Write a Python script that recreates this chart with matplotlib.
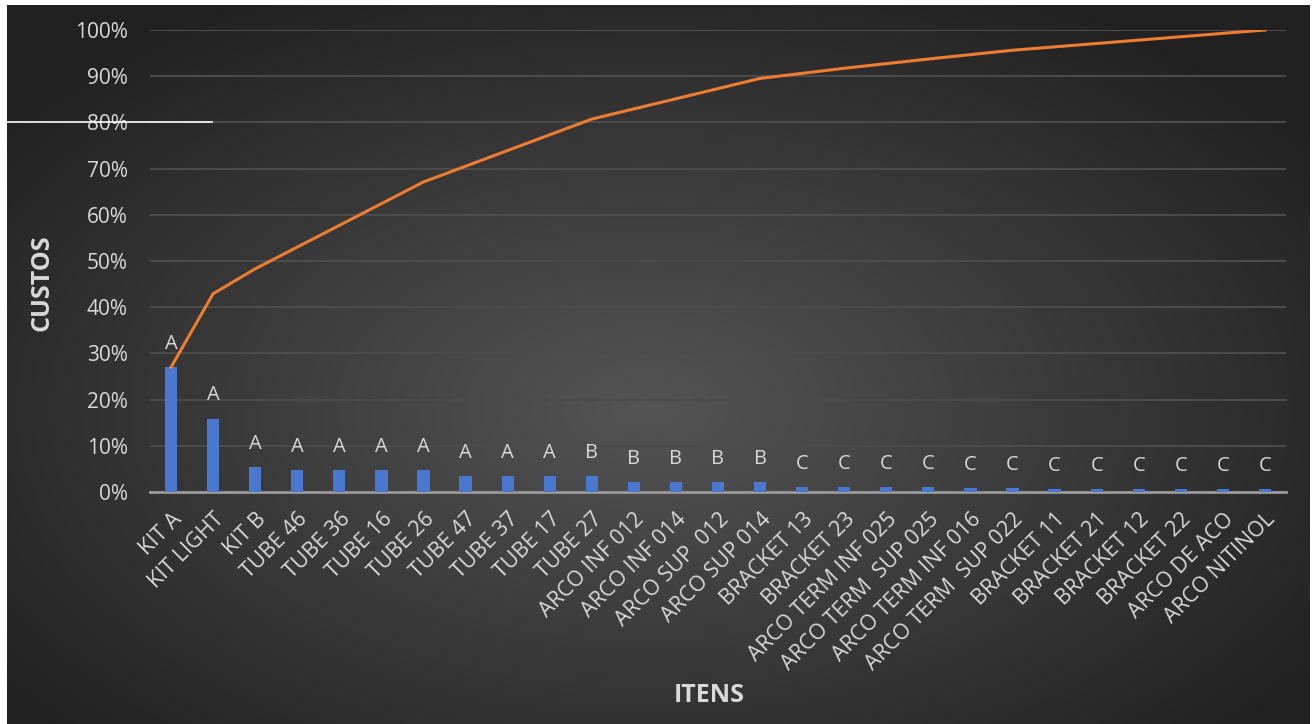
import matplotlib.pyplot as plt
import numpy as np

itens = ['KIT A', 'KIT LIGHT', 'KIT B', 'TUBE 46', 'TUBE 36', 'TUBE 16', 'TUBE 26',
         'TUBE 47', 'TUBE 37', 'TUBE 17', 'TUBE 27', 'ARCO INF 012', 'ARCO INF 014',
         'ARCO SUP  012', 'ARCO SUP 014', 'BRACKET 13', 'BRACKET 23', 'ARCO TERM INF 025',
         'ARCO TERM  SUP 025', 'ARCO TERM INF 016', 'ARCO TERM  SUP 022', 'BRACKET 11',
         'BRACKET 21', 'BRACKET 12', 'BRACKET 22', 'ARCO DE ACO', 'ARCO NITINOL']
custos = [27.0, 15.9, 5.4, 4.7, 4.7, 4.7, 4.7, 3.4, 3.4, 3.4, 3.4, 2.2, 2.2, 2.2, 2.2,
          1.1, 1.1, 1.0, 1.0, 0.95, 0.95, 0.73, 0.73, 0.73, 0.73, 0.73, 0.73]
classe = ['A'] * 10 + ['B'] * 5 + ['C'] * 12

pct = np.array(custos) / sum(custos)
acum = np.cumsum(pct)

plt.rcParams['font.family'] = ['Open Sans', 'DejaVu Sans']

fig = plt.figure(figsize=(13.14, 7.24), dpi=100, facecolor='white')

# dark radial background panel
bg = fig.add_axes([7 / 1314, 0, 1303 / 1314, 1 - 5 / 724])
gx, gy = np.meshgrid(np.linspace(-1, 1, 400), np.linspace(-1, 1, 240))
r = np.sqrt(((gx + 0.02) / 1.05) ** 2 + ((gy - 0.12) / 1.1) ** 2)
shade = 0.33 - 0.2 * np.clip(r, 0, 1.2) / 1.2
bg.imshow(np.dstack([shade] * 3), aspect='auto', extent=[0, 1, 0, 1])
bg.axis('off')

fig.add_artist(plt.Line2D([7 / 1314, 212 / 1314], [1 - 122 / 724] * 2, color='white', lw=1.2))

ax = fig.add_axes([150 / 1314, 1 - 492 / 724, 1136 / 1314, 462 / 724])
ax.set_facecolor('none')
x = np.arange(len(itens))

ax.bar(x, pct, width=0.29, color='#4a78cf', zorder=3)
ax.plot(x, acum, color='#ed7d31', lw=2.2, zorder=4)

for i in range(len(itens)):
    ax.annotate(classe[i], (x[i], pct[i]), xytext=(0, 13), textcoords='offset points',
                ha='center', va='baseline', color='#d9d9d9', fontsize=14.5)

ax.set_xlim(-0.5, len(itens) - 0.5)
ax.set_ylim(0, 1)
ax.set_yticks(np.arange(0, 1.01, 0.1))
ax.set_yticklabels(['%d%%' % v for v in range(0, 101, 10)])
ax.yaxis.grid(True, color='#4b4b4b', lw=1.5, zorder=0)
ax.set_axisbelow(True)
ax.set_xticks(x)
ax.set_xticklabels(itens, rotation=45, ha='right', va='top', rotation_mode='anchor')
ax.tick_params(axis='both', length=0, colors='#d9d9d9')
ax.tick_params(axis='y', pad=16, labelsize=15)
ax.tick_params(axis='x', pad=12, labelsize=15.5)
for s in ['top', 'right', 'left']:
    ax.spines[s].set_visible(False)
ax.spines['bottom'].set_color('#9a9a9a')
ax.spines['bottom'].set_linewidth(2)

fig.text(42 / 1314, 1 - 283 / 724, 'CUSTOS', rotation=90, ha='center', va='center',
         color='#d9d9d9', fontsize=18, fontweight='bold')
fig.text(709 / 1314, 1 - 696 / 724, 'ITENS', ha='center', va='center',
         color='#d9d9d9', fontsize=18, fontweight='bold')

plt.savefig('out.png', dpi=100, facecolor=fig.get_facecolor())
